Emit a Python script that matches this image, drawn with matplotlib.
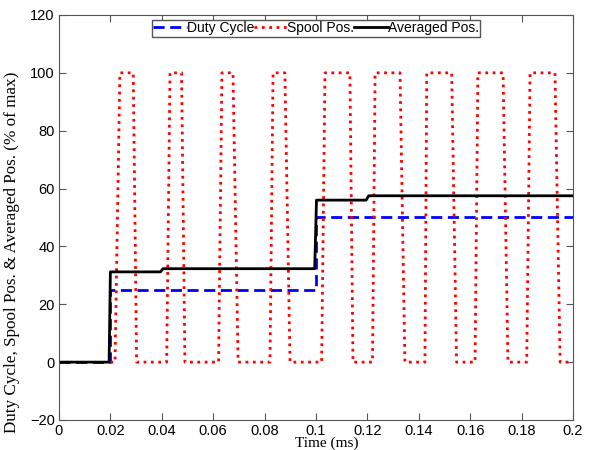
import matplotlib
matplotlib.use("Agg")
import matplotlib.pyplot as plt

# Duty cycle command (step values)
duty_t = [0.0, 0.02, 0.02, 0.1, 0.1, 0.2]
duty_v = [0, 0, 25, 25, 50, 50]

# Spool position breakpoints (trapezoidal pulses)
spool_t = [0.02, 0.0218, 0.0237, 0.0289, 0.0302,
           0.0419, 0.0432, 0.0477, 0.0490,
           0.0621, 0.0634, 0.0677, 0.0697,
           0.0821, 0.0833, 0.0879, 0.0899,
           0.1022, 0.1035, 0.1132, 0.1144,
           0.1220, 0.1230, 0.1327, 0.1346,
           0.1424, 0.1431, 0.1528, 0.1547,
           0.1619, 0.1630, 0.1728, 0.1747,
           0.1820, 0.1833, 0.1930, 0.1950, 0.2]
spool_v = [0, 0, 100, 100, 0,
           0, 100, 100, 0,
           0, 100, 100, 0,
           0, 100, 100, 0,
           0, 100, 100, 0,
           0, 100, 100, 0,
           0, 100, 100, 0,
           0, 100, 100, 0,
           0, 100, 100, 0, 0]

# Averaged spool position
avg_t = [0.0, 0.0195, 0.0200, 0.0395, 0.0405, 0.0995, 0.1002, 0.1195, 0.1205, 0.2]
avg_v = [0, 0, 31.2, 31.2, 32.3, 32.3, 56.0, 56.0, 57.5, 57.5]

plt.rcParams["font.family"] = ["Liberation Sans", "DejaVu Sans"]

fig = plt.figure(figsize=(5.94, 4.5), dpi=100)
ax = fig.add_axes([0.0993, 0.0667, 0.8653, 0.9])

ax.plot(duty_t, duty_v, color="blue", linestyle="--", linewidth=2, dashes=(4, 2), label="Duty Cycle")
ax.plot(spool_t, spool_v, color="red", linestyle=":", linewidth=2, label="Spool Pos.")
ax.plot(avg_t, avg_v, color="black", linewidth=2, label="Averaged Pos.")

ax.set_xlim(0, 0.2)
ax.set_ylim(-20, 120)
ax.set_xticks([0, 0.02, 0.04, 0.06, 0.08, 0.1, 0.12, 0.14, 0.16, 0.18, 0.2])
ax.set_xticklabels(["0", "0.02", "0.04", "0.06", "0.08", "0.1", "0.12", "0.14", "0.16", "0.18", "0.2"])
ax.set_yticks(range(-20, 121, 20))
ax.tick_params(direction="in", top=True, right=True, labelsize=10.5, length=5, color="#555555", pad=3)
for s in ax.spines.values():
    s.set_color("#555555")

ax.set_xlabel("Time (ms)", family="Liberation Serif", fontsize=11)
ax.xaxis.set_label_coords(0.521, -0.040)
ax.set_ylabel("Duty Cycle, Spool Pos. & Averaged Pos. (% of max)", family="Liberation Serif", fontsize=12.3)
ax.yaxis.set_label_coords(-0.076, 0.415)

leg = ax.legend(loc="upper center", ncol=3, fontsize=10, handlelength=2.4, handletextpad=0.0,
                columnspacing=0.0, borderpad=0.1, borderaxespad=0.35, fancybox=False, framealpha=1,
                bbox_to_anchor=(0.5, 1.0))
leg.get_frame().set_edgecolor("#555555")

fig.savefig("out.png", dpi=100)
